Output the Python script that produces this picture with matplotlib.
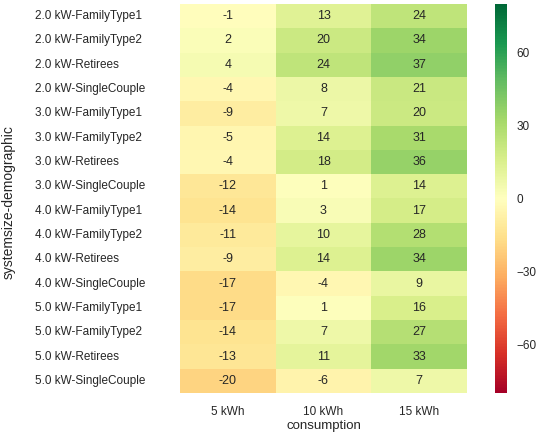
import matplotlib
matplotlib.use("Agg")
import matplotlib.pyplot as plt
import numpy as np
import pandas as pd
import seaborn as sns

rows = [
    "2.0 kW-FamilyType1", "2.0 kW-FamilyType2", "2.0 kW-Retirees", "2.0 kW-SingleCouple",
    "3.0 kW-FamilyType1", "3.0 kW-FamilyType2", "3.0 kW-Retirees", "3.0 kW-SingleCouple",
    "4.0 kW-FamilyType1", "4.0 kW-FamilyType2", "4.0 kW-Retirees", "4.0 kW-SingleCouple",
    "5.0 kW-FamilyType1", "5.0 kW-FamilyType2", "5.0 kW-Retirees", "5.0 kW-SingleCouple",
]
cols = ["5 kWh", "10 kWh", "15 kWh"]

kwh5 = [-1, 2, 4, -4, -9, -5, -4, -12, -14, -11, -9, -17, -17, -14, -13, -20]
kwh10 = [13, 20, 24, 8, 7, 14, 18, 1, 3, 10, 14, -4, 1, 7, 11, -6]
kwh15 = [24, 34, 37, 21, 20, 31, 36, 14, 17, 28, 34, 9, 16, 27, 33, 7]

df = pd.DataFrame({"5 kWh": kwh5, "10 kWh": kwh10, "15 kWh": kwh15}, index=rows)

sns.set_style("white")
plt.rcParams["font.family"] = ["Liberation Sans", "DejaVu Sans"]
plt.rcParams["text.color"] = "#262626"
plt.rcParams["axes.labelcolor"] = "#262626"
plt.rcParams["xtick.color"] = "#262626"
plt.rcParams["ytick.color"] = "#262626"

W, H = 537, 436
fig = plt.figure(figsize=(W / 100, H / 100), dpi=100)
ax = fig.add_axes([180 / W, 1 - 393 / H, 287 / W, 389 / H])
cax = fig.add_axes([495 / W, 1 - 393 / H, 12 / W, 389 / H])

sns.heatmap(df, ax=ax, cbar_ax=cax, cmap="RdYlGn", vmin=-80, vmax=80,
            annot=True, fmt=".0f", annot_kws={"fontsize": 9, "color": "#262626"})

fs = 8.5
ax.set_xlabel("consumption", fontsize=9.5, labelpad=2)
ax.set_ylabel("systemsize-demographic", fontsize=10)
ax.yaxis.set_label_coords(-(180 - 16) / 287, 0.49)
ax.tick_params(axis="x", length=0, labelsize=fs, pad=9)
# y tick labels are left-aligned at x ~ 35 px
ax.tick_params(axis="y", length=0, labelsize=fs, pad=(180 - 35) * 0.72)
plt.setp(ax.get_yticklabels(), rotation=0, ha="left")
plt.setp(ax.get_xticklabels(), rotation=0)

cax.set_yticks([-60, -30, 0, 30, 60])
cax.tick_params(length=0, labelsize=fs, pad=7)
cax.yaxis.set_ticks_position("right")
for s in cax.spines.values():
    s.set_visible(False)

fig.savefig("out.png", dpi=100)
